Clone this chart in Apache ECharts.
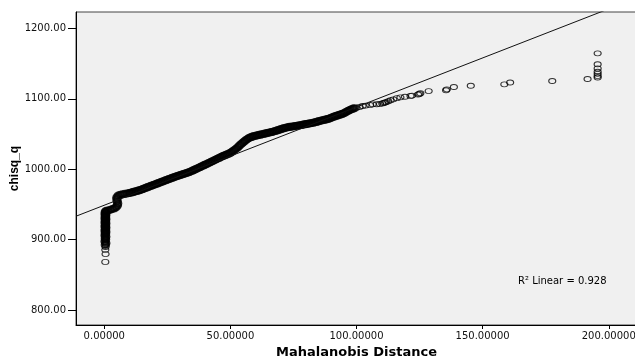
<!DOCTYPE html>
<html>
<head>
<meta charset="utf-8">
<script src="https://cdn.jsdelivr.net/npm/echarts@6/dist/echarts.min.js"></script>
<style>
  html, body { margin: 0; padding: 0; background: #fff; }
  #chart { width: 635px; height: 359px; }
</style>
</head>
<body>
<div id="chart"></div>
<script>
// Mahalanobis distance (x) vs chisq_q (y).
// Dense part: cases packed so tightly they print as a solid band.
const denseDist = [
  // stack at zero
  0.4, 0.6, 0.3, 0.5, 0.4, 0.6, 0.3, 0.5, 0.4, 0.6, 0.3, 0.5, 0.4, 0.6, 0.3, 0.5, 0.4,
  0.6, 0.3, 0.5, 0.4, 0.6, 0.3, 0.5, 0.4, 0.6, 0.3, 0.5, 0.4, 0.7,
  // jog
  1.5, 2.4, 3.2, 4.0, 4.7, 5.2, 5.3, 5.1, 5.0, 5.0, 5.5, 6.3, 7.2, 8.1, 9.0, 9.8,
  // main band
  10.4, 11.0, 11.6, 12.2, 12.8, 13.4, 14.0, 14.6, 15.2, 15.8, 16.4, 17.0, 17.6, 18.2, 18.8, 19.4, 20.0, 20.6,
  21.2, 21.8, 22.4, 23.0, 23.6, 24.2, 24.8, 25.4, 26.0, 26.6, 27.2, 27.8, 28.4, 29.0, 29.6, 30.2, 30.8, 31.4,
  32.0, 32.6, 33.2, 33.8, 34.4, 35.0, 35.6, 36.2, 36.8, 37.4, 38.0, 38.6, 39.2, 39.8, 40.4, 41.0, 41.6, 42.2,
  42.8, 43.4, 44.0, 44.6, 45.2, 45.8, 46.4, 47.0, 47.6, 48.2, 48.8, 49.4, 50.0, 50.6, 51.2, 51.8, 52.4,
  53.0, 53.6, 54.2, 54.8, 55.4, 56.0, 56.6, 57.2, 57.8, 58.4, 59.0, 59.6, 60.2, 60.8, 61.4, 62.0, 62.6, 63.2,
  63.8, 64.4, 65.0, 65.6, 66.2, 66.8, 67.4, 68.0, 68.6, 69.2, 69.8, 70.4, 71.0, 71.6, 72.2, 72.8, 73.4, 74.0,
  74.6, 75.2, 75.8, 76.4, 77.0, 77.6, 78.2, 78.8, 79.4, 80.0, 80.6, 81.2, 81.8, 82.4, 83.0, 83.6, 84.2, 84.8,
  85.4, 86.0, 86.6, 87.2, 87.8, 88.4, 89.0, 89.6, 90.2, 90.8, 91.4, 92.0, 92.6, 93.2, 93.8, 94.4, 95.0, 95.6,
  96.2, 96.8, 97.4, 98.0, 98.6, 99.2
];
const denseChisq = [
  892.5, 895.0, 897.5, 900.0, 902.0, 904.0, 906.0, 908.0, 909.5, 911.0, 912.5, 914.0, 915.5, 917.0, 918.5, 920.0, 921.5,
  923.0, 924.5, 926.0, 927.5, 929.0, 930.5, 932.0, 933.5, 935.0, 936.5, 938.0, 939.5, 941.0,
  941.5, 942.5, 943.5, 944.5, 946.0, 948.5, 951.5, 954.5, 957.5, 960.0, 962.5, 963.8, 964.5, 965.0, 965.5, 966.2,
  966.6, 967.2, 967.9, 968.5, 969.1, 969.6, 970.2, 971.0, 971.8, 972.7, 973.5, 974.3, 975.2, 976.0, 976.8, 977.6, 978.4, 979.2,
  980.0, 980.9, 981.7, 982.5, 983.3, 984.2, 985.0, 985.8, 986.6, 987.4, 988.2, 989.0, 989.7, 990.5, 991.2, 991.9, 992.6, 993.3,
  994.0, 994.7, 995.4, 996.2, 997.1, 998.1, 999.1, 1000.1, 1001.1, 1002.1, 1003.1, 1004.2, 1005.2, 1006.2, 1007.2, 1008.2, 1009.3, 1010.3,
  1011.4, 1012.4, 1013.5, 1014.5, 1015.6, 1016.6, 1017.7, 1018.7, 1019.6, 1020.5, 1021.4, 1022.3, 1023.3, 1024.8, 1026.4, 1028.0, 1029.5,
  1031.5, 1033.6, 1035.6, 1037.5, 1039.3, 1041.0, 1042.6, 1044.0, 1045.2, 1046.0, 1046.7, 1047.3, 1047.8, 1048.3, 1048.8, 1049.3, 1049.8, 1050.3,
  1050.8, 1051.3, 1051.8, 1052.3, 1052.8, 1053.4, 1054.0, 1054.6, 1055.3, 1056.0, 1056.7, 1057.4, 1058.1, 1058.7, 1059.3, 1059.8, 1060.2, 1060.5,
  1060.8, 1061.1, 1061.4, 1061.8, 1062.2, 1062.6, 1063.0, 1063.4, 1063.8, 1064.2, 1064.6, 1065.0, 1065.4, 1065.8, 1066.3, 1066.8, 1067.4, 1068.0,
  1068.6, 1069.2, 1069.7, 1070.2, 1070.7, 1071.2, 1071.8, 1072.6, 1073.5, 1074.4, 1075.2, 1075.9, 1076.6, 1077.3, 1078.0, 1078.7, 1079.6, 1080.8,
  1082.0, 1083.2, 1084.3, 1085.3, 1086.2, 1086.8
];

// Sparse cases: single open circles
const sparseDist = [
  0.4, 0.5, 0.4, 0.5,
  100.0, 101.2, 102.4, 103.6, 105.4, 106.4, 108.0, 109.3, 110.2, 110.8, 111.3, 111.8, 112.6, 113.5, 114.6,
  116.0, 117.4, 119.2, 121.4, 122.0, 124.4, 124.9, 125.3, 128.6, 135.5, 135.8, 138.6, 145.3, 158.6, 160.9,
  177.6, 191.6, 195.6, 195.6, 195.6, 195.6, 195.6, 195.6, 195.6
];
const sparseChisq = [
  868.3, 879.5, 885.5, 889.5,
  1087.5, 1088.6, 1089.8, 1090.4, 1091.2, 1092.2, 1092.4, 1092.8, 1093.5, 1094.2, 1094.8, 1095.4, 1096.6, 1098.0, 1099.3,
  1101.0, 1102.2, 1103.0, 1104.2, 1104.6, 1106.2, 1107.0, 1107.9, 1111.0, 1112.2, 1113.5, 1116.8, 1118.6, 1120.6, 1123.2,
  1125.3, 1128.2, 1130.4, 1132.6, 1135.6, 1138.5, 1143.2, 1149.1, 1164.7
];

// linear fit line
const fitIntercept = 948.9;
const fitSlope = 1.395;
const rSquared = 0.928;

const xTicks = [0, 50, 100, 150, 200];
const yTicks = [800, 900, 1000, 1100, 1200];
const xMin = -11.22, xMax = 211.2;
const yMin = 778.7, yMax = 1223.4;

const densePoints = denseDist.map((d, i) => [d, denseChisq[i]]);
const sparsePoints = sparseDist.map((d, i) => [d, sparseChisq[i]]);
const fitLine = [xMin, xMax].map(x => [x, fitIntercept + fitSlope * x]);

const chart = echarts.init(document.getElementById('chart'), null, { renderer: 'canvas' });

const option = {
  animation: false,
  backgroundColor: '#ffffff',
  grid: {
    left: 76,
    top: 12,
    right: -2,
    bottom: 34,
    outerBoundsMode: 'none',
    containLabel: false,
    show: true,
    backgroundColor: '#f0f0f0',
    borderColor: '#444',
    borderWidth: 1
  },
  xAxis: {
    type: 'value',
    min: xMin,
    max: xMax,
    name: 'Mahalanobis Distance',
    nameLocation: 'middle',
    nameGap: 21,
    nameMoveOverlap: false,
    nameTextStyle: { fontFamily: 'DejaVu Sans', fontWeight: 'bold', fontSize: 13, color: '#000' },
    axisLine: { show: true, onZero: false, lineStyle: { color: '#000', width: 1 } },
    axisTick: { show: true, length: 4, customValues: xTicks, lineStyle: { color: '#000' } },
    axisLabel: {
      customValues: xTicks,
      margin: 6,
      fontFamily: 'DejaVu Sans',
      fontSize: 10,
      color: '#111',
      formatter: v => v.toFixed(5)
    },
    splitLine: { show: false }
  },
  yAxis: {
    type: 'value',
    min: yMin,
    max: yMax,
    name: 'chisq_q',
    nameLocation: 'middle',
    nameRotate: 90,
    nameGap: 55,
    nameMoveOverlap: false,
    nameTextStyle: { fontFamily: 'Liberation Sans', fontWeight: 'bold', fontSize: 12, color: '#000' },
    axisLine: { show: true, onZero: false, lineStyle: { color: '#000', width: 1 } },
    axisTick: { show: true, length: 8, customValues: yTicks, lineStyle: { color: '#000' } },
    axisLabel: {
      customValues: yTicks,
      margin: 10,
      fontFamily: 'DejaVu Sans',
      fontSize: 10,
      color: '#111',
      formatter: v => v.toFixed(2)
    },
    splitLine: { show: false }
  },
  series: [
    {
      name: 'chisq_q dense',
      type: 'scatter',
      data: densePoints,
      symbol: 'circle',
      symbolSize: [7, 6],
      itemStyle: {
        color: 'rgba(0,0,0,0)',
        borderColor: '#000',
        borderWidth: 2.2
      },
      z: 2
    },
    {
      name: 'chisq_q',
      type: 'scatter',
      data: sparsePoints,
      symbol: 'circle',
      symbolSize: [7, 5],
      itemStyle: {
        color: 'rgba(0,0,0,0)',
        borderColor: '#000',
        borderWidth: 1
      },
      z: 2
    },
    {
      name: 'Linear',
      type: 'line',
      data: fitLine,
      showSymbol: false,
      clip: true,
      lineStyle: { color: '#111', width: 1 },
      z: 3
    }
  ],
  graphic: [
    {
      type: 'text',
      left: 518,
      top: 276,
      style: {
        text: 'R\u00b2 Linear = ' + rSquared.toFixed(3),
        font: '10px "DejaVu Sans"',
        fill: '#000'
      }
    }
  ]
};

chart.setOption(option);
window.addEventListener('resize', () => chart.resize());
</script>
</body>
</html>
